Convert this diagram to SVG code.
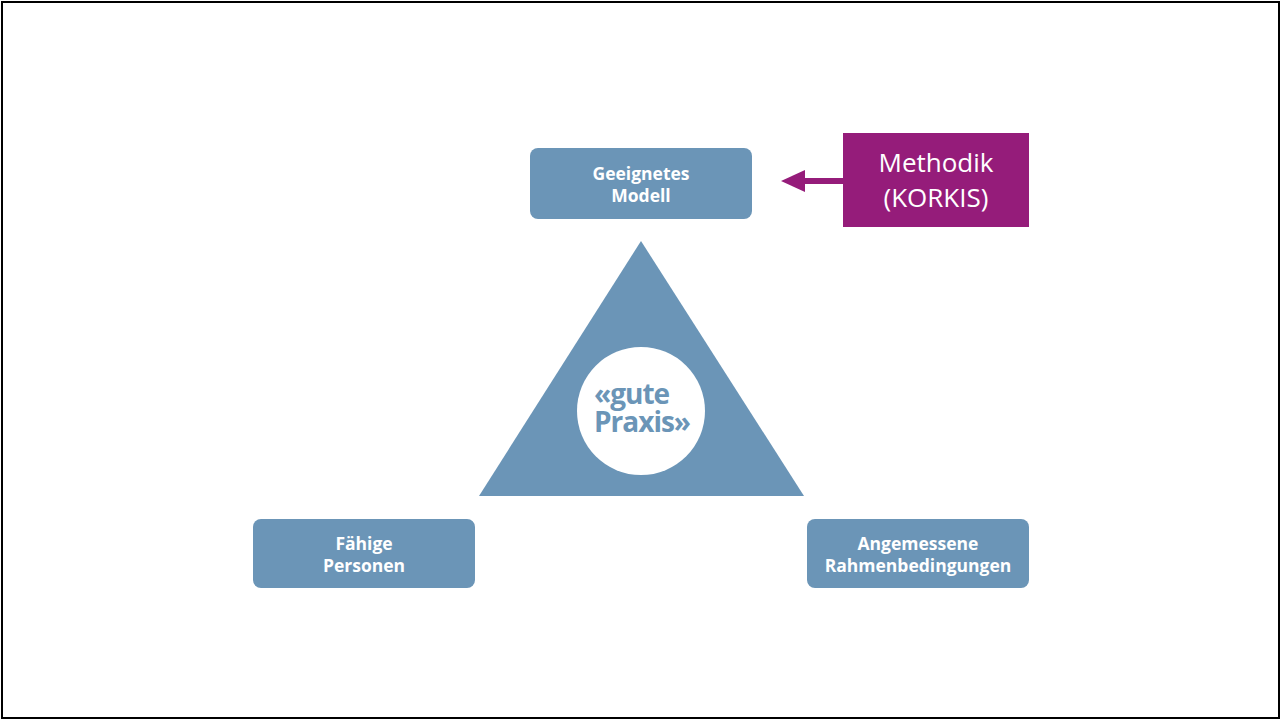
<svg xmlns="http://www.w3.org/2000/svg" width="1282" height="720" viewBox="0 0 1282 720">
<style>
.box{fill:#6b95b7}
.lbl{font-family:"Open Sans","Liberation Sans",sans-serif;font-weight:bold;font-size:17.5px;fill:#ffffff;text-anchor:middle}
.meth{font-family:"Open Sans","Liberation Sans",sans-serif;font-size:26px;fill:#ffffff;text-anchor:middle}
.gp{font-family:"Open Sans","Liberation Sans",sans-serif;font-weight:bold;font-size:28px;fill:#6b95b7;letter-spacing:-1px}
</style>
<rect x="0" y="0" width="1282" height="720" fill="#ffffff"/>
<rect x="2" y="2" width="1277" height="716" fill="none" stroke="#000000" stroke-width="2"/>
<g id="connectors">
<line x1="843" y1="181" x2="804" y2="181" stroke="#951c7a" stroke-width="6"/>
<polygon points="781,181 805,170 805,192" fill="#951c7a"/>
</g>
<g id="gute-praxis">
<polygon points="641,241 479,496 804,496" fill="#6b95b7"/>
<circle cx="641" cy="411" r="64" fill="#ffffff"/>
<text class="gp" x="594" y="404">«gute</text>
<text class="gp" x="594" y="432">Praxis»</text>
</g>
<g id="modell">
<rect class="box" x="530" y="148" width="222" height="71" rx="8"/>
<text class="lbl" x="641" y="180">Geeignetes</text>
<text class="lbl" x="641" y="202">Modell</text>
</g>
<g id="methodik">
<rect x="843" y="133" width="186" height="94" fill="#951c7a"/>
<text class="meth" x="936" y="172">Methodik</text>
<text class="meth" x="936" y="207">(KORKIS)</text>
</g>
<g id="personen">
<rect class="box" x="253" y="519" width="222" height="69" rx="8"/>
<text class="lbl" x="364" y="550">Fähige</text>
<text class="lbl" x="364" y="572">Personen</text>
</g>
<g id="rahmen">
<rect class="box" x="807" y="519" width="222" height="69" rx="8"/>
<text class="lbl" x="918" y="550">Angemessene</text>
<text class="lbl" x="918" y="572">Rahmenbedingungen</text>
</g>
</svg>
